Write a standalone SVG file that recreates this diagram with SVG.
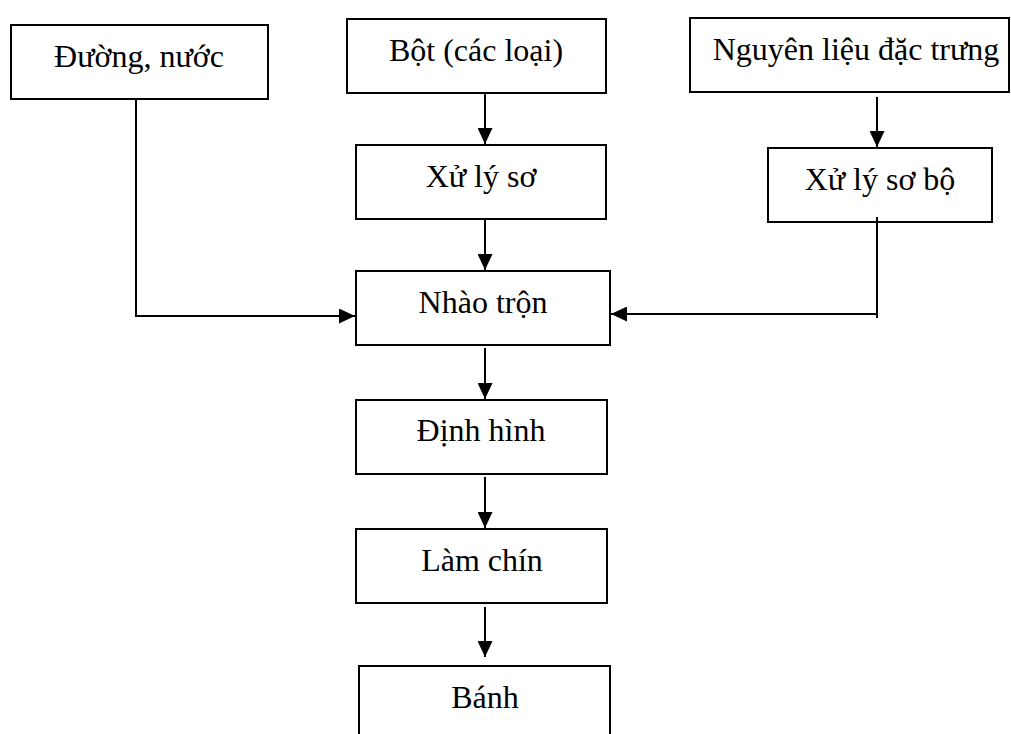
<svg xmlns="http://www.w3.org/2000/svg" width="1011" height="734" viewBox="0 0 1011 734">
<style>
  .box { fill: #ffffff; stroke: #000000; stroke-width: 2; }
  .lbl { font-family: "Liberation Serif", "Times New Roman", serif; font-size: 32px; fill: #000000; text-anchor: middle; }
  .conn { fill: none; stroke: #000000; stroke-width: 2; }
</style>
<defs>
  <marker id="arrow" markerUnits="userSpaceOnUse" markerWidth="16" markerHeight="15" refX="16" refY="7.5" orient="auto">
    <path d="M0,0 L16,7.5 L0,15 z" fill="#000000"/>
  </marker>
</defs>
<rect width="1011" height="734" fill="#ffffff"/>
<g id="node-duong-nuoc">
  <rect class="box" x="11" y="25" width="257" height="74"/>
  <text class="lbl" x="139" y="67">Đường, nước</text>
</g>
<g id="node-bot">
  <rect class="box" x="347" y="19" width="259" height="74"/>
  <text class="lbl" x="476" y="61">Bột (các loại)</text>
</g>
<g id="node-nguyen-lieu">
  <rect class="box" x="690" y="18" width="319" height="74"/>
  <text class="lbl" x="856" y="60">Nguyên liệu đặc trưng</text>
</g>
<g id="node-xu-ly-so">
  <rect class="box" x="356" y="145" width="250" height="74"/>
  <text class="lbl" x="481" y="187">Xử lý sơ</text>
</g>
<g id="node-xu-ly-so-bo">
  <rect class="box" x="768" y="148" width="224" height="74"/>
  <text class="lbl" x="880" y="190">Xử lý sơ bộ</text>
</g>
<g id="node-nhao-tron">
  <rect class="box" x="356" y="271" width="254" height="74"/>
  <text class="lbl" x="483" y="313">Nhào trộn</text>
</g>
<g id="node-dinh-hinh">
  <rect class="box" x="356" y="400" width="251" height="74"/>
  <text class="lbl" x="481" y="441">Định hình</text>
</g>
<g id="node-lam-chin">
  <rect class="box" x="356" y="529" width="251" height="74"/>
  <text class="lbl" x="482" y="571">Làm chín</text>
</g>
<g id="node-banh">
  <rect class="box" x="359" y="666" width="251" height="90"/>
  <text class="lbl" x="485" y="708">Bánh</text>
</g>
<g id="connectors">
  <line class="conn" x1="485" y1="93" x2="485" y2="144" marker-end="url(#arrow)"/>
  <line class="conn" x1="877" y1="97" x2="877" y2="147" marker-end="url(#arrow)"/>
  <line class="conn" x1="485" y1="219" x2="485" y2="270" marker-end="url(#arrow)"/>
  <polyline class="conn" points="136,99 136,316 355,316" marker-end="url(#arrow)"/>
  <line class="conn" x1="877" y1="217" x2="877" y2="318"/>
  <line class="conn" x1="877" y1="314" x2="611" y2="314" marker-end="url(#arrow)"/>
  <line class="conn" x1="485" y1="348" x2="485" y2="399" marker-end="url(#arrow)"/>
  <line class="conn" x1="485" y1="477" x2="485" y2="528" marker-end="url(#arrow)"/>
  <line class="conn" x1="485" y1="607" x2="485" y2="657" marker-end="url(#arrow)"/>
</g>
</svg>
